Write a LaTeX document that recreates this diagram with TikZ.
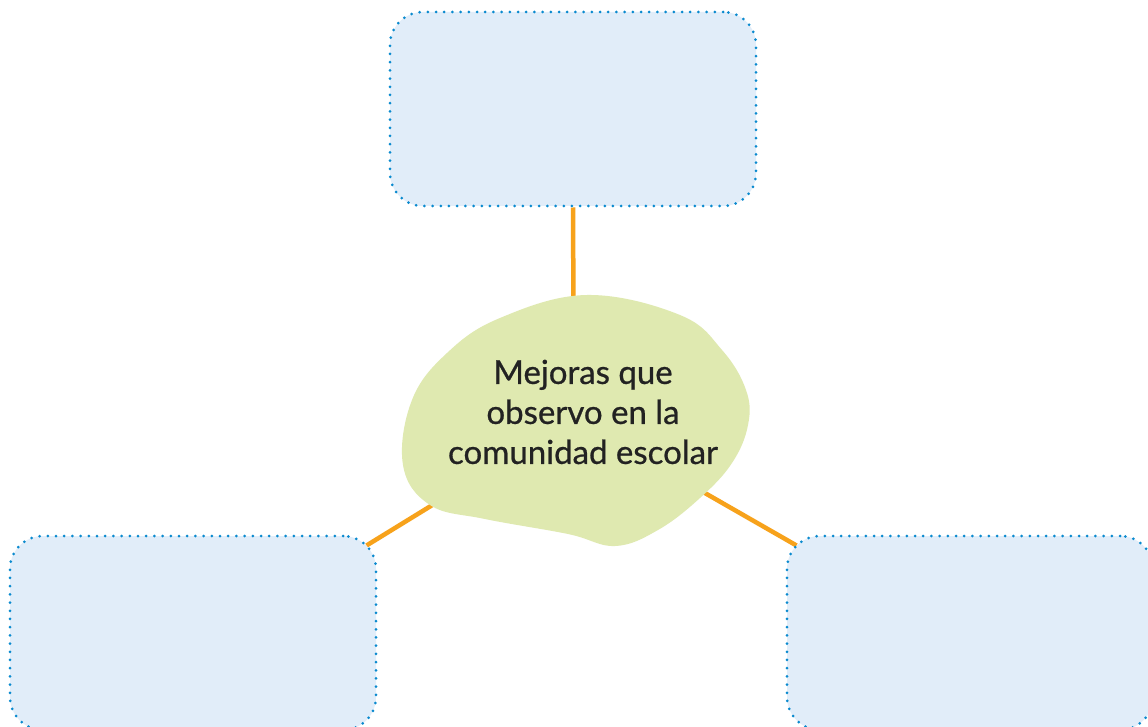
\documentclass[tikz,border=0pt]{standalone}
\usepackage{fontspec}
\setmainfont{Lato}
\newfontfamily\blobfont{Lato}[FakeBold=0.7]
\usetikzlibrary{backgrounds}
\definecolor{boxfill}{HTML}{E1EDF9}
\definecolor{boxdot}{HTML}{0A8ACF}
\definecolor{blobfill}{HTML}{DFE9B0}
\definecolor{linkcol}{HTML}{F7A21B}
\definecolor{txtcol}{HTML}{222222}
\tikzset{
  answerbox/.style={draw=boxdot, fill=boxfill, line width=3pt, line cap=round,
    dash pattern=on 0pt off 8.2pt, rounded corners=33pt,
    minimum width=366pt, minimum height=194pt, inner sep=0pt},
  link/.style={draw=linkcol, line width=4.5pt},
  blobtxt/.style={text=txtcol, align=center, font=\blobfont\fontsize{33}{40}\selectfont}
}
\begin{document}
\begin{tikzpicture}[x=1pt,y=-1pt]
\useasboundingbox (0,0) rectangle (1148,727);
\coordinate (c) at (574,418);
\node[answerbox] (top) at (573,109) {};
\node[answerbox] (left) at (193,633) {};
\node[answerbox] (right) at (970,633) {};
\begin{pgfonlayer}{background}
\fill[white] (0,0) rectangle (1148,727);
\draw[link] (c) -- (top.south);
\draw[link] (c) -- ([shift={(-11,11)}]left.north east);
\draw[link] (c) -- ([shift={(11,11)}]right.north west);
\end{pgfonlayer}
\fill[blobfill] plot[smooth cycle, tension=0.65] coordinates {
 (587,295) (680,315) (722,350) (746,390) (748,425) (732,463) (700,498)
 (658,530) (615,546) (568,534) (485,519) (430,505) (403,465) (412,400)
 (447,353) (500,318)};
\node[blobtxt] (label) at (583,412) {Mejoras que\\observo en la\\comunidad escolar};
\end{tikzpicture}
\end{document}
